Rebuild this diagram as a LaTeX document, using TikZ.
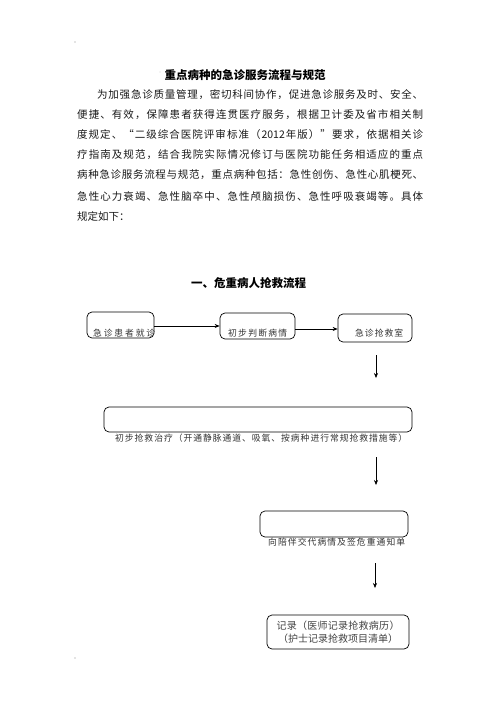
\documentclass[tikz,border=0pt]{standalone}
\usepackage{fontspec}
\newfontfamily\cjk{Noto Sans CJK SC}
\usetikzlibrary{arrows.meta}
\def\endspr{ENDSPR}
\def\spr#1{\sprB#1\endspr}
\def\sprB#1{#1\sprC}
\def\sprC#1{\ifx\endspr#1\else\hfil#1\expandafter\sprC\fi}
\def\yrtxt{2012}
\definecolor{lblgray}{HTML}{333333}
\definecolor{recgray}{HTML}{444444}
\tikzset{
  para/.style={inner sep=0pt, anchor=west, font=\cjk\fontsize{10.5}{12}\selectfont, text=black!90},
  ttl/.style={inner sep=0pt, font=\cjk\bfseries\fontsize{11.5}{13}\selectfont},
  box/.style={draw, rounded corners=5pt, line width=0.7pt, inner sep=0pt},
  lbl/.style={inner sep=0pt, anchor=west, font=\cjk\fontsize{8.8}{10}\selectfont, text=lblgray},
  arr/.style={-{Stealth[length=5pt,width=4pt]}, line width=0.6pt},
  speck/.style={fill=black!45, draw=none, inner sep=0pt, minimum size=1.2pt, circle}
}
\begin{document}
\begin{tikzpicture}[x=1pt, y=-1pt]
\useasboundingbox (0,0) rectangle (496,702);
\fill[white] (0,0) rectangle (496,702);

% specks
\node[speck] (s1) at (75,42) {};
\node[speck] (s2) at (75,658) {};
\node[speck, minimum size=0.8pt] (s3) at (160,72) {};

% title
\node[ttl] (title) at (245,75) {重点病种的急诊服务流程与规范};

% paragraph
\node[para] (p1) at (97,95) {\hbox to 326pt{\spr{为加强急诊质量管理，密切科间协作，促进急诊服务及时、安全、}}};
\node[para] (p2) at (77,115) {\hbox to 346pt{\spr{便捷、有效，保障患者获得连贯医疗服务，根据卫计委及省市相关制}}};
\node[para] (p3) at (77,135) {\hbox to 346pt{\spr{度规定、“二级综合医院评审标准（\yrtxt 年版）”要求，依据相关诊}}};
\node[para] (p4) at (77,155) {\hbox to 346pt{\spr{疗指南及规范，结合我院实际情况修订与医院功能任务相适应的重点}}};
\node[para] (p5) at (77,175) {\hbox to 346pt{\spr{病种急诊服务流程与规范，重点病种包括：急性创伤、急性心肌梗死、}}};
\node[para] (p6) at (77,196.5) {\hbox to 346pt{\spr{急性心力衰竭、急性脑卒中、急性颅脑损伤、急性呼吸衰竭等。具体}}};
\node[para] (p7) at (77,216.5) {规定如下：};

% heading
\node[ttl] (head) at (248.5,283) {一、危重病人抢救流程};

% boxes
\node[box, minimum width=67pt, minimum height=26pt] (b1) at (120.5,325) {};
\node[box, minimum width=75pt, minimum height=26pt] (b2) at (257.5,326) {};
\node[box, minimum width=74pt, minimum height=28pt] (b3) at (375,328) {};
\node[box, minimum width=308pt, minimum height=25pt] (b4) at (258,419.5) {};
\node[box, minimum width=148pt, minimum height=26pt] (b5) at (334,524) {};
\node[box, minimum width=142pt, minimum height=34pt, align=center,
      font=\cjk\fontsize{10}{13}\selectfont, text=recgray] (b6) at (338,632)
      {\hbox to 123pt{\spr{记录（医师记录抢救病历）}}\\\hbox to 120pt{\spr{（护士记录抢救项目清单）}}};

% labels
\node[lbl] (l1) at (93,333) {\hbox to 62pt{\spr{急诊患者就诊}}};
\node[lbl] (l2) at (228,333) {\hbox to 59pt{\spr{初步判断病情}}};
\node[lbl] (l3) at (355,333) {\hbox to 48pt{\spr{急诊抢救室}}};
\node[lbl] (l4) at (115,438) {\hbox to 292pt{\spr{初步抢救治疗（开通静脉通道、吸氧、按病种进行常规抢救措施等）}}};
\node[lbl] (l5) at (268,542) {\hbox to 137pt{\spr{向陪伴交代病情及签危重通知单}}};

% connectors
\draw[arr] (b1.east |- 0,326) -- (b2.west |- 0,326);
\draw[arr] (b2.east |- 0,329) -- (b3.west |- 0,329);

\coordinate (v1s) at (376,355);
\coordinate (v1e) at (376,378);
\coordinate (v2s) at (376,457);
\coordinate (v2e) at (376,485);
\coordinate (v3s) at (375,563);
\coordinate (v3e) at (375,588);
\draw[arr] (v1s) -- (v1e);
\draw[arr] (v2s) -- (v2e);
\draw[arr] (v3s) -- (v3e);
\end{tikzpicture}
\end{document}
